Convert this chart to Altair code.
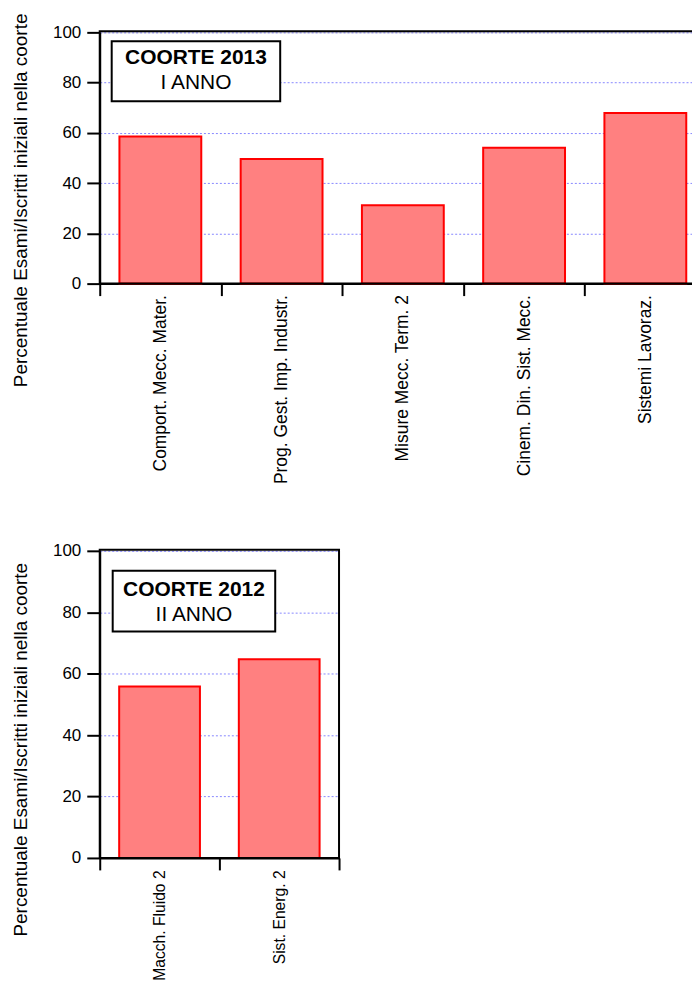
import altair as alt
import pandas as pd

# Data
cat_2013 = ["Comport. Mecc. Mater.", "Prog. Gest. Imp. Industr.", "Misure Mecc. Term. 2",
            "Cinem. Din. Sist. Mecc.", "Sistemi Lavoraz."]
val_2013 = [58.6, 49.6, 31.2, 54.1, 67.9]
cat_2012 = ["Macch. Fluido 2", "Sist. Energ. 2"]
val_2012 = [55.8, 64.7]
y_ticks = [0, 20, 40, 60, 80, 100]
ytitle = "Percentuale Esami/Iscritti iniziali nella coorte"

FONT = "Liberation Sans"


def panel(cats, vals, w, h, box, l1, l2, ty1, ty2, title_y, lab_size, lab_pad):
    df = pd.DataFrame({"cat": cats, "val": vals})
    x = alt.X("cat:N", sort=cats, title=None,
              scale=alt.Scale(paddingInner=0, paddingOuter=0),
              axis=alt.Axis(tickBand="extent", tickSize=12, tickWidth=2, tickColor="black",
                            domainColor="black", domainWidth=2, labelAngle=-90,
                            labelAlign="right", labelBaseline="middle", labelPadding=lab_pad,
                            labelFontSize=lab_size, labelColor="black", labelFont=FONT,
                            labelLimit=400, grid=False))
    y = alt.Y("val:Q", scale=alt.Scale(domain=[0, 100], nice=False),
              axis=alt.Axis(values=y_ticks, tickSize=13, tickWidth=2, tickColor="black",
                            domainColor="black", domainWidth=2, labelFontSize=17,
                            labelColor="black", labelFont=FONT, labelPadding=6,
                            grid=True, gridColor="#8888ff", gridDash=[2, 2], gridWidth=1,
                            title=ytitle, titleFont=FONT, titleFontSize=19,
                            titleFontWeight="normal", titleColor="black",
                            titleX=-79, titleY=title_y, titleAngle=-90,
                            titleBaseline="middle", titleAlign="center"))
    bars = alt.Chart(df).mark_bar(fill="#ff8080", stroke="#ff0000", strokeWidth=2,
                                  width=alt.RelativeBandSize(0.675)).encode(x=x, y=y)
    one = alt.Data(values=[{"a": 1}])
    frame = alt.Chart(one).mark_rect(fillOpacity=0, stroke="black", strokeWidth=2).encode(
        x=alt.value(0), x2=alt.value(w), y=alt.value(-1), y2=alt.value(h))
    bx0, bx1, by0, by1 = box
    rect = alt.Chart(one).mark_rect(fill="white", stroke="black", strokeWidth=2).encode(
        x=alt.value(bx0), x2=alt.value(bx1), y=alt.value(by0), y2=alt.value(by1))
    cx = (bx0 + bx1) / 2
    t1 = alt.Chart(one).mark_text(font=FONT, fontSize=21, fontWeight="bold", color="black",
                                  baseline="middle", align="center").encode(
        x=alt.value(cx), y=alt.value(ty1), text=alt.value(l1))
    t2 = alt.Chart(one).mark_text(font=FONT, fontSize=21, color="black",
                                  baseline="middle", align="center").encode(
        x=alt.value(cx), y=alt.value(ty2), text=alt.value(l2))
    return alt.layer(bars, frame, rect, t1, t2).properties(width=w, height=h)


top = panel(cat_2013, val_2013, 608, 252, (12, 181, 9, 69), "COORTE 2013", "I ANNO",
            26, 51, 168, 17.5, -1)
bottom = panel(cat_2012, val_2012, 240, 308, (13, 176, 20, 81), "COORTE 2012", "II ANNO",
               39, 64, 199, 15.7, 0)

chart = alt.vconcat(top, bottom, spacing=56).properties(
    padding={"left": 3, "top": 3, "right": -16, "bottom": 0}
).configure_view(stroke="black", strokeWidth=2).configure(background="white")

chart.save("out.html", embed_options={"renderer": "svg", "actions": False})
